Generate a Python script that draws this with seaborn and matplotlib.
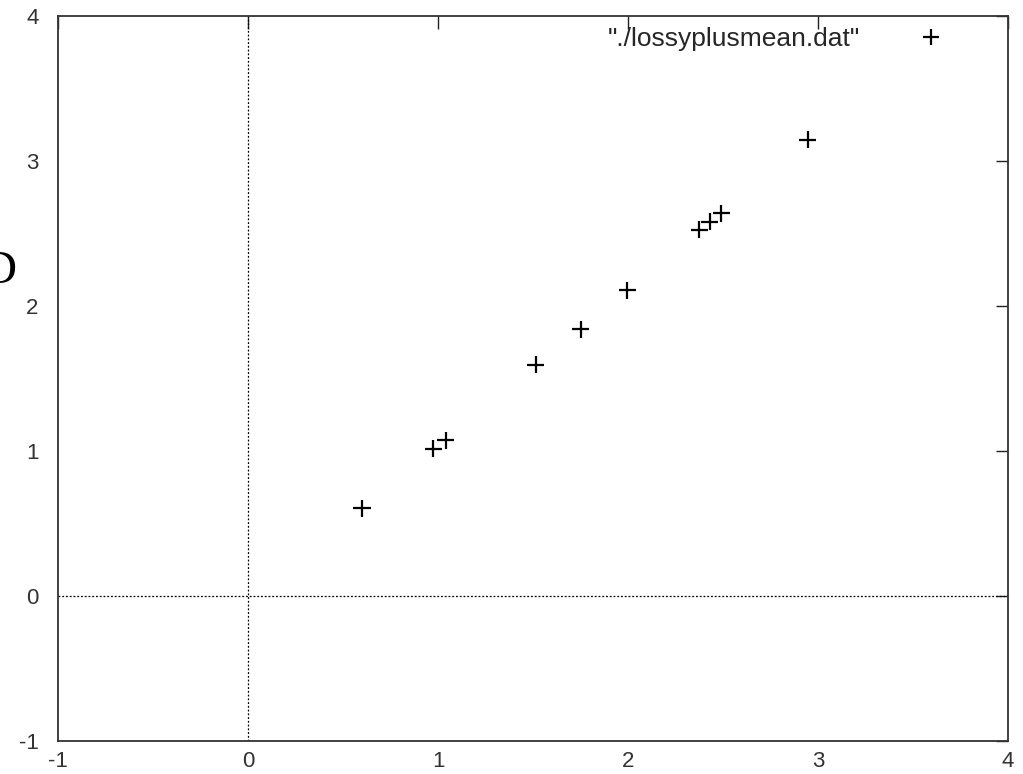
import matplotlib
matplotlib.use("Agg")
import matplotlib.pyplot as plt
import seaborn as sns
import pandas as pd

x_vals = [0.60, 0.975, 1.04, 1.515, 1.75, 1.995, 2.375, 2.43, 2.49, 2.945]
y_vals = [0.605, 1.015, 1.075, 1.595, 1.84, 2.11, 2.525, 2.58, 2.64, 3.145]
series_label = '"./lossyplusmean.dat"'
x_ticks = [-1, 0, 1, 2, 3, 4]
y_ticks = [-1, 0, 1, 2, 3, 4]

sns.set_theme(style="white")
plt.rcParams['font.family'] = ['Liberation Sans', 'DejaVu Sans']

df = pd.DataFrame({"x": x_vals, "y": y_vals, "s": series_label})

fig = plt.figure(figsize=(10.23, 7.74), dpi=100)
ax = fig.add_axes([58/1023, 1 - 741/774, (1008-58)/1023, (741-16)/774])

ax.axhline(0, color="black", lw=0.9, ls=(0, (1.5, 1.5)), zorder=1)
ax.axvline(0, color="black", lw=0.9, ls=(0, (1.5, 1.5)), zorder=1)

sns.scatterplot(data=df, x="x", y="y", hue="s", palette=["black"], marker="+",
                s=150, linewidth=1.6, ax=ax, zorder=3)

ax.set_xlim(-1, 4)
ax.set_ylim(-1, 4)
ax.set_xticks(x_ticks)
ax.set_yticks(y_ticks)
ax.set_xticklabels([str(t) for t in x_ticks])
ax.set_yticklabels([str(t) for t in y_ticks])
ax.set_xlabel("")
ax.set_ylabel("")
ax.tick_params(direction="in", length=9, width=1, colors="#222222",
               labelsize=16, top=True, right=True)
ax.tick_params(axis="y", pad=14)
ax.tick_params(axis="x", pad=7)
for lab in ax.get_xticklabels() + ax.get_yticklabels():
    lab.set_color("#333333")
for s in ax.spines.values():
    s.set_color("#333333")
    s.set_linewidth(1.3)

leg = ax.legend(loc="upper right", frameon=False, markerfirst=False,
                fontsize=19, handletextpad=1.7, borderaxespad=0.3,
                bbox_to_anchor=(0.966, 1.01))
for h in leg.legend_handles:
    try:
        h.set_markersize(12)
        h.set_markeredgewidth(1.6)
    except AttributeError:
        pass

fig.text(0.0, 1 - 272/774, "D", family="Liberation Serif", fontsize=34,
         ha="center", va="center", color="black")

fig.savefig("out.png", dpi=100)
